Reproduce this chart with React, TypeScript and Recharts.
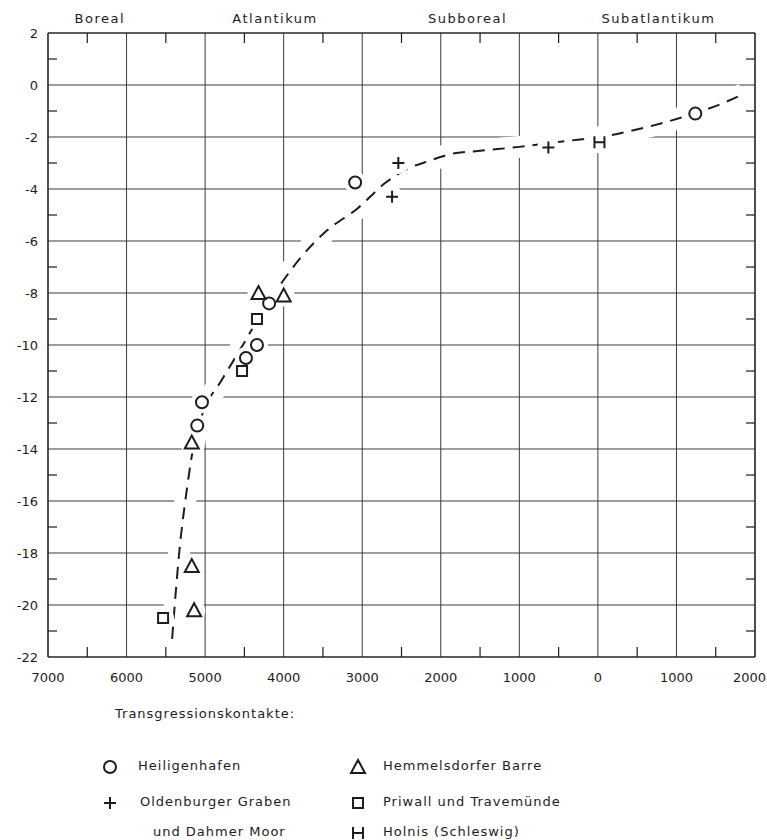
import { ComposedChart, Line, Scatter, XAxis, YAxis, CartesianGrid } from 'recharts';

// years: negative = v. Chr., positive = n. Chr.
const yearTicks = [-7000, -6000, -5000, -4000, -3000, -2000, -1000, 0, 1000, 2000];
const halfYearTicks = [-6500, -5500, -4500, -3500, -2500, -1500, -500, 500, 1500];
const depthTicks = [2, 0, -2, -4, -6, -8, -10, -12, -14, -16, -18, -20, -22];
const oddDepthTicks = [1, -1, -3, -5, -7, -9, -11, -13, -15, -17, -19, -21];

const periodNames = ['Boreal', 'Atlantikum', 'Subboreal', 'Subatlantikum'];
const periodYears = [-6340, -4110, -1660, 770];

const curveYears = [-5420, -5330, -5230, -5130, -5000, -4800, -4500, -4250, -4000, -3800, -3450, -3060, -2700, -2420, -2150, -1880, -1530, -1000, -300, 0, 400, 800, 1200, 1550, 1850];
const curveDepths = [-21.3, -18.0, -15.5, -13.6, -12.4, -11.4, -9.9, -8.6, -7.5, -6.7, -5.6, -4.75, -3.75, -3.22, -2.92, -2.66, -2.54, -2.38, -2.12, -2.02, -1.78, -1.48, -1.12, -0.75, -0.35];

const heiligenhafenYears = [-3090, -4185, -4340, -4480, -5040, -5100, 1240];
const heiligenhafenDepths = [-3.75, -8.4, -10.0, -10.5, -12.2, -13.1, -1.1];

const hemmelsdorfYears = [-4320, -4000, -5170, -5170, -5140];
const hemmelsdorfDepths = [-8.0, -8.1, -13.75, -18.5, -20.2];

const priwallYears = [-4340, -4530, -5535];
const priwallDepths = [-9.0, -11.0, -20.5];

const oldenburgYears = [-2540, -2620, -630];
const oldenburgDepths = [-3.0, -4.3, -2.4];

const holnisYears = [20];
const holnisDepths = [-2.2];

const zip = (xs: number[], ys: number[]) => xs.map((x, i) => ({ x, y: ys[i] }));

const curve = zip(curveYears, curveDepths);
const heiligenhafen = zip(heiligenhafenYears, heiligenhafenDepths);
const hemmelsdorf = zip(hemmelsdorfYears, hemmelsdorfDepths);
const priwall = zip(priwallYears, priwallDepths);
const oldenburg = zip(oldenburgYears, oldenburgDepths);
const holnis = zip(holnisYears, holnisDepths);
const allPoints = [...heiligenhafen, ...hemmelsdorf, ...priwall, ...oldenburg, ...holnis];

const ink = '#1d1d1d';
const font = '"DejaVu Sans", sans-serif';

type P = { cx?: number; cy?: number };

const Ring = ({ cx = 0, cy = 0 }: P) => (
  <circle cx={cx} cy={cy} r={6} fill="none" stroke={ink} strokeWidth={2} />
);
const Tri = ({ cx = 0, cy = 0 }: P) => (
  <path d={`M${cx - 7},${cy + 6}L${cx + 7},${cy + 6}L${cx},${cy - 7}Z`} fill="none" stroke={ink} strokeWidth={2} />
);
const Box = ({ cx = 0, cy = 0 }: P) => (
  <rect x={cx - 5} y={cy - 5} width={10} height={10} fill="none" stroke={ink} strokeWidth={2} />
);
const Cross = ({ cx = 0, cy = 0 }: P) => (
  <path d={`M${cx - 6},${cy}H${cx + 6}M${cx},${cy - 6}V${cy + 6}`} stroke={ink} strokeWidth={2} />
);
const HMark = ({ cx = 0, cy = 0 }: P) => (
  <path d={`M${cx - 5},${cy - 6}V${cy + 6}M${cx + 5},${cy - 6}V${cy + 6}M${cx - 5},${cy}H${cx + 5}`} stroke={ink} strokeWidth={2} />
);
const Halo = ({ cx = 0, cy = 0 }: P) => <circle cx={cx} cy={cy} r={11} fill="#fff" />;

const NoLabel = () => <g />;

const legendLeft = [
  { label: 'Heiligenhafen', Sym: Ring },
  { label: 'Oldenburger Graben', Sym: Cross },
];
const legendRight = [
  { label: 'Hemmelsdorfer Barre', Sym: Tri },
  { label: 'Priwall und Travemünde', Sym: Box },
  { label: 'Holnis (Schleswig)', Sym: HMark },
];
const rowTops = [767, 803, 833];

const textStyle = { fontFamily: font, fontSize: 13, color: ink, letterSpacing: 1 } as const;

function LegendItem({ x, textX, y, label, Sym }: any) {
  return (
    <>
      <svg width={18} height={18} style={{ position: 'absolute', left: x - 9, top: y - 9 }}>
        <Sym cx={9} cy={9} />
      </svg>
      <div style={{ ...textStyle, position: 'absolute', left: textX, top: y - 9, whiteSpace: 'nowrap' }}>{label}</div>
    </>
  );
}

// last label sits flush with the page edge, like the original
function YearTick({ x, y, payload }: any) {
  const last = payload.value === yearTicks[yearTicks.length - 1];
  return (
    <text x={last ? x + 11 : x} y={y} dy="0.71em" textAnchor={last ? 'end' : 'middle'} fontSize={13} fill={ink} fontFamily={font}>
      {Math.abs(payload.value)}
    </text>
  );
}

export default function App() {
  const tickStyle = { fontSize: 13, fill: ink, fontFamily: font };
  const minor = { type: 'number' as const, mirror: true, allowDataOverflow: true, interval: 0, tick: NoLabel, tickLine: { stroke: ink, strokeWidth: 1.2 }, axisLine: { stroke: ink, strokeWidth: 1.2 } };
  return (
    <div style={{ position: 'absolute', left: 0, top: 0, width: 767, height: 840, background: '#fff' }}>
      <ComposedChart width={767} height={700} margin={{ top: 0, right: 12, left: 0, bottom: 0 }}>
        <CartesianGrid stroke="#3a3a3a" strokeWidth={1} />
        <XAxis
          dataKey="x"
          type="number"
          domain={[-7000, 2000]}
          allowDataOverflow
          ticks={yearTicks}
          interval={0}
          height={43}
          tickLine={false}
          axisLine={false}
          tickSize={0}
          tickMargin={16}
          tick={<YearTick />}
        />
        <XAxis
          xAxisId="period"
          dataKey="x"
          orientation="top"
          type="number"
          domain={[-7000, 2000]}
          allowDataOverflow
          ticks={periodYears}
          interval={0}
          height={33}
          tickLine={false}
          axisLine={false}
          tickSize={0}
          tickMargin={10}
          tick={{ ...tickStyle, letterSpacing: 1.5 }}
          tickFormatter={(v: number) => periodNames[periodYears.indexOf(v)]}
        />
        <YAxis
          dataKey="y"
          type="number"
          domain={[-22, 2]}
          allowDataOverflow
          ticks={depthTicks}
          interval={0}
          width={48}
          tickLine={false}
          axisLine={false}
          tickSize={0}
          tickMargin={10}
          tick={tickStyle}
          tickFormatter={(v: number) => (v < 0 ? `-${Math.abs(v)}` : String(v))}
        />
        <XAxis xAxisId="minorTop" dataKey="x" orientation="top" domain={[-7000, 2000]} ticks={halfYearTicks} tickSize={10} height={10} {...minor} />
        <XAxis xAxisId="minorBottom" dataKey="x" orientation="bottom" domain={[-7000, 2000]} ticks={halfYearTicks} tickSize={10} height={10} {...minor} />
        <YAxis yAxisId="minorLeft" dataKey="y" orientation="left" domain={[-22, 2]} ticks={oddDepthTicks} tickSize={9} width={10} {...minor} />
        <YAxis yAxisId="minorRight" dataKey="y" orientation="right" domain={[-22, 2]} ticks={oddDepthTicks} tickSize={9} width={10} {...minor} />

        <Line data={curve} dataKey="y" xAxisId="minorTop" yAxisId="minorRight" type="monotone" stroke="#fff" strokeWidth={22} dot={false} activeDot={false} isAnimationActive={false} />
        <Line data={curve} dataKey="y" type="monotone" stroke={ink} strokeWidth={2} strokeDasharray="12 8" dot={false} activeDot={false} isAnimationActive={false} />
        <Scatter data={allPoints} dataKey="y" xAxisId="period" yAxisId="minorLeft" shape={Halo} isAnimationActive={false} />
        <Scatter data={heiligenhafen} dataKey="y" shape={Ring} isAnimationActive={false} />
        <Scatter data={hemmelsdorf} dataKey="y" shape={Tri} isAnimationActive={false} />
        <Scatter data={priwall} dataKey="y" shape={Box} isAnimationActive={false} />
        <Scatter data={oldenburg} dataKey="y" xAxisId="minorBottom" shape={Cross} isAnimationActive={false} />
        <Scatter data={holnis} dataKey="y" shape={HMark} isAnimationActive={false} />
      </ComposedChart>
      <div style={{ ...textStyle, position: 'absolute', left: 115, top: 706, whiteSpace: 'nowrap' }}>Transgressionskontakte:</div>
      {legendLeft.map((d, i) => (
        <LegendItem key={d.label} x={110} textX={i === 0 ? 138 : 140} y={rowTops[i]} label={d.label} Sym={d.Sym} />
      ))}
      <div style={{ ...textStyle, position: 'absolute', left: 153, top: rowTops[2] - 9, whiteSpace: 'nowrap' }}>und Dahmer Moor</div>
      {legendRight.map((d, i) => (
        <LegendItem key={d.label} x={358} textX={383} y={rowTops[i]} label={d.label} Sym={d.Sym} />
      ))}
    </div>
  );
}
